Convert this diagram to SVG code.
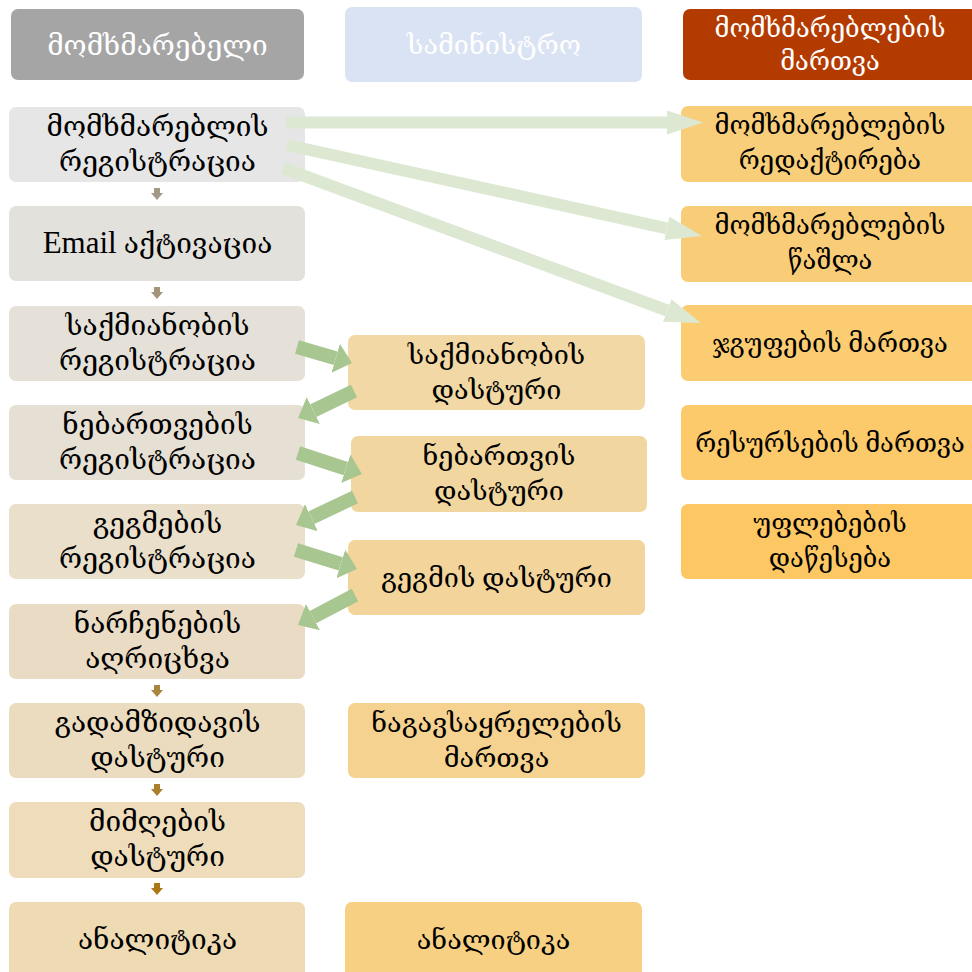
<svg xmlns="http://www.w3.org/2000/svg" width="972" height="972" viewBox="0 0 972 972">
<defs>
<style>
text{font-family:"Liberation Serif","DejaVu Serif",serif;text-anchor:middle;fill:#000}
.l text{font-size:28px}
.m text{font-size:27px}
.r text{font-size:25.5px}
text.w{fill:#fff}
.lat{font-size:31px}
.lg{stroke:#dde8d3;stroke-width:12;fill:none}
.dg{stroke:#a8c690;stroke-width:14;fill:none}
</style>
<marker id="hl" markerUnits="userSpaceOnUse" markerWidth="36" markerHeight="24" viewBox="0 0 36 24" refX="0" refY="12" orient="auto"><path d="M0,0 L36,12 L0,24 z" fill="#dde8d3"/></marker>
<marker id="hd" markerUnits="userSpaceOnUse" markerWidth="17" markerHeight="30" viewBox="0 0 17 30" refX="0" refY="15" orient="auto"><path d="M0,0 L17,15 L0,30 z" fill="#a8c690"/></marker>
<path id="sa" d="M-3,0 H3 V5 H6 L0,12 L-6,5 H-3 z"/>
</defs>
<rect width="972" height="972" fill="#fff"/>

<g class="l">
<g id="hdr-user"><rect x="11" y="9" width="293" height="71" rx="7" fill="#a5a5a5"/><text class="w" x="157.5" y="55">მომხმარებელი</text></g>
<g id="u1"><rect x="9" y="107" width="296" height="75" rx="7" fill="#e6e6e6"/><text x="157.5"><tspan x="157.5" y="136">მომხმარებლის</tspan><tspan x="157.5" y="171">რეგისტრაცია</tspan></text></g>
<g id="u2"><rect x="9" y="206" width="296" height="75" rx="7" fill="#e3e1dc"/><text x="157.5" y="253"><tspan class="lat">Email</tspan> აქტივაცია</text></g>
<g id="u3"><rect x="9" y="306" width="296" height="75" rx="7" fill="#e5e1d8"/><text x="157.5"><tspan x="157.5" y="335">საქმიანობის</tspan><tspan x="157.5" y="370">რეგისტრაცია</tspan></text></g>
<g id="u4"><rect x="9" y="405" width="296" height="75" rx="7" fill="#e6dfd3"/><text x="157.5"><tspan x="157.5" y="434">ნებართვების</tspan><tspan x="157.5" y="469">რეგისტრაცია</tspan></text></g>
<g id="u5"><rect x="9" y="504" width="296" height="75" rx="7" fill="#e9dfcb"/><text x="157.5"><tspan x="157.5" y="533">გეგმების</tspan><tspan x="157.5" y="568">რეგისტრაცია</tspan></text></g>
<g id="u6"><rect x="9" y="604" width="296" height="75" rx="7" fill="#eadcc4"/><text x="157.5"><tspan x="157.5" y="633">ნარჩენების</tspan><tspan x="157.5" y="668">აღრიცხვა</tspan></text></g>
<g id="u7"><rect x="9" y="703" width="296" height="75" rx="7" fill="#ecdcbf"/><text x="157.5"><tspan x="157.5" y="732">გადამზიდავის</tspan><tspan x="157.5" y="767">დასტური</tspan></text></g>
<g id="u8"><rect x="9" y="802" width="296" height="76" rx="7" fill="#eedcbb"/><text x="157.5"><tspan x="157.5" y="831">მიმღების</tspan><tspan x="157.5" y="866">დასტური</tspan></text></g>
<g id="u9"><rect x="9" y="902" width="296" height="80" rx="7" fill="#efdbb3"/><text x="157.5" y="949">ანალიტიკა</text></g>
</g>

<g class="m">
<g id="hdr-min"><rect x="345" y="7" width="297" height="75" rx="7" fill="#dae3f3"/><text class="w" x="494" y="54">სამინისტრო</text></g>
<g id="m1"><rect x="348" y="335" width="297" height="75" rx="7" fill="#f2d8a4"/><text x="496.5"><tspan x="496.5" y="364">საქმიანობის</tspan><tspan x="496.5" y="399">დასტური</tspan></text></g>
<g id="m2"><rect x="351" y="436" width="296" height="76" rx="7" fill="#f2d6a0"/><text x="499"><tspan x="499" y="465">ნებართვის</tspan><tspan x="499" y="500">დასტური</tspan></text></g>
<g id="m3"><rect x="348" y="540" width="297" height="75" rx="7" fill="#f3d59c"/><text x="496.5" y="587">გეგმის დასტური</text></g>
<g id="m4"><rect x="348" y="703" width="297" height="75" rx="7" fill="#f5d290"/><text x="496.5"><tspan x="496.5" y="732">ნაგავსაყრელების</tspan><tspan x="496.5" y="767">მართვა</tspan></text></g>
<g id="m5"><rect x="345" y="902" width="297" height="80" rx="7" fill="#f7d084"/><text x="493.5" y="949">ანალიტიკა</text></g>
</g>

<g class="r">
<g id="hdr-mgmt"><rect x="683" y="9" width="296" height="71" rx="7" fill="#b33b00"/><text class="w" x="830"><tspan x="830" y="37">მომხმარებლების</tspan><tspan x="830" y="70">მართვა</tspan></text></g>
<g id="r1"><rect x="681" y="106" width="298" height="76" rx="7" fill="#f9ce7b"/><text x="830"><tspan x="830" y="134">მომხმარებლების</tspan><tspan x="830" y="169">რედაქტირება</tspan></text></g>
<g id="r2"><rect x="681" y="206" width="298" height="76" rx="7" fill="#f9cd77"/><text x="830"><tspan x="830" y="234">მომხმარებლების</tspan><tspan x="830" y="269">წაშლა</tspan></text></g>
<g id="r3"><rect x="681" y="305" width="298" height="76" rx="7" fill="#fbcc72"/><text x="830" y="352">ჯგუფების მართვა</text></g>
<g id="r4"><rect x="681" y="405" width="298" height="75" rx="7" fill="#fcca6b"/><text x="830" y="452">რესურსების მართვა</text></g>
<g id="r5"><rect x="681" y="504" width="298" height="75" rx="7" fill="#fdc864"/><text x="830"><tspan x="830" y="532">უფლებების</tspan><tspan x="830" y="567">დაწესება</tspan></text></g>
</g>

<g id="connectors">
<line class="lg" x1="286" y1="122.5" x2="667" y2="122.5" marker-end="url(#hl)"/>
<line class="lg" x1="287" y1="145" x2="666.8" y2="228.3" marker-end="url(#hl)"/>
<line class="lg" x1="283" y1="168" x2="667.2" y2="310.5" marker-end="url(#hl)"/>
<line class="dg" x1="297" y1="347" x2="335.7" y2="358.2" marker-end="url(#hd)"/>
<line class="dg" x1="354" y1="391" x2="313.3" y2="410.6" marker-end="url(#hd)"/>
<line class="dg" x1="298" y1="453" x2="345.8" y2="468.7" marker-end="url(#hd)"/>
<line class="dg" x1="355" y1="497" x2="311.4" y2="517.7" marker-end="url(#hd)"/>
<line class="dg" x1="296" y1="550" x2="340.8" y2="563.9" marker-end="url(#hd)"/>
<line class="dg" x1="355" y1="595" x2="313" y2="617.1" marker-end="url(#hd)"/>
<use href="#sa" x="157" y="188" fill="#a29a86"/>
<use href="#sa" x="157" y="287" fill="#a49479"/>
<use href="#sa" x="157" y="685" fill="#a8863f"/>
<use href="#sa" x="157" y="784" fill="#aa7f2c"/>
<use href="#sa" x="157" y="883" fill="#ad7718"/>
</g>
</svg>
